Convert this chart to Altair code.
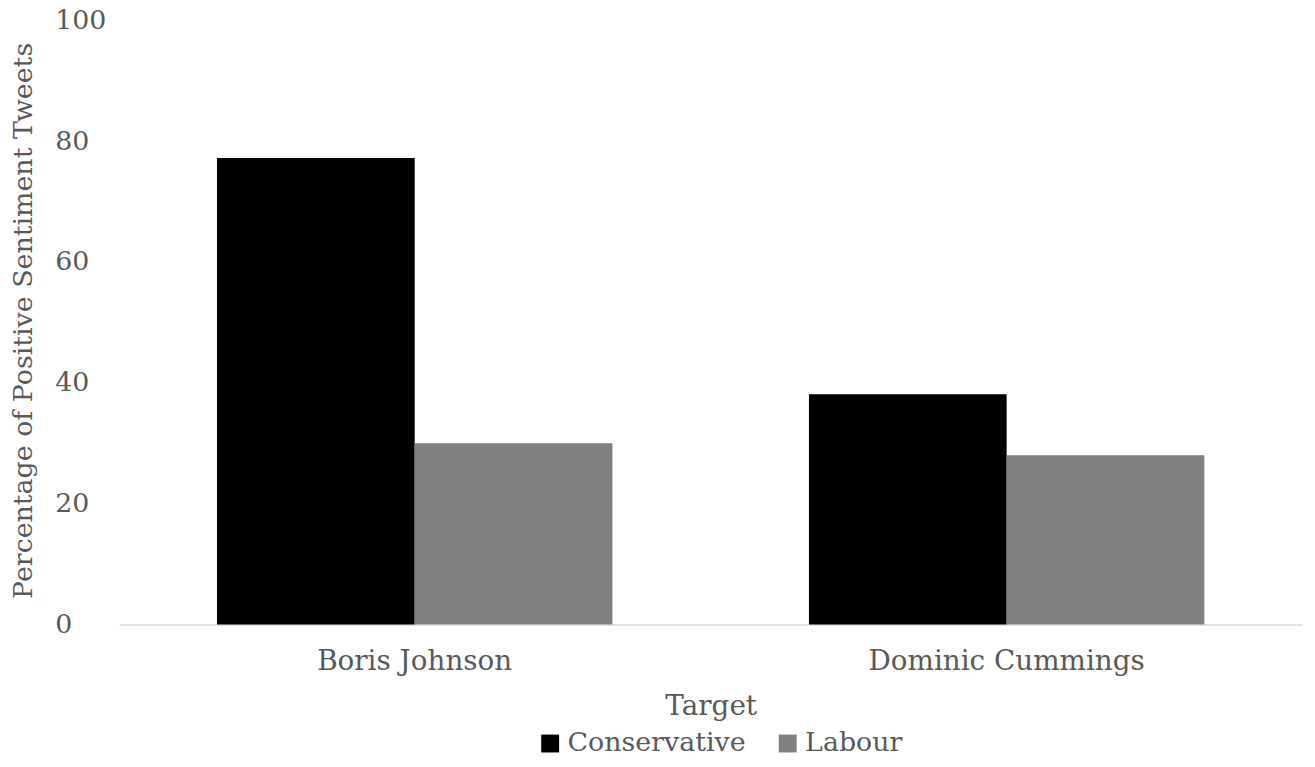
import altair as alt
import pandas as pd

targets = ["Boris Johnson", "Dominic Cummings"]
parties = ["Conservative", "Labour"]
conservative = [77.2, 38.1]
labour = [30.0, 28.0]
y_ticks = [0, 20, 40, 60, 80, 100]

rows = []
for i, t in enumerate(targets):
    rows.append({"Target": t, "Party": "Conservative", "Value": conservative[i]})
    rows.append({"Target": t, "Party": "Labour", "Value": labour[i]})
df = pd.DataFrame(rows)

FONT = "DejaVu Serif"
TXT = "#595959"

chart = alt.Chart(df).mark_bar().encode(
    x=alt.X("Target:N", sort=targets,
            scale=alt.Scale(paddingInner=0.332, paddingOuter=0.165, round=False),
            axis=alt.Axis(title="Target", labelAngle=0, ticks=False,
                          domainColor="#d9d9d9", domainWidth=1.5, labelLimit=0,
                          labelPadding=23, labelFont=FONT, labelFontSize=28,
                          labelColor=TXT, titleFont=FONT, titleFontSize=28,
                          titleFontWeight="normal", titleColor=TXT,
                          titleY=83, titleBaseline="middle")),
    xOffset=alt.XOffset("Party:N", sort=parties),
    y=alt.Y("Value:Q", scale=alt.Scale(domain=[0, 100]),
            axis=alt.Axis(title="Percentage of Positive Sentiment Tweets",
                          values=y_ticks, grid=False, domain=False, ticks=False,
                          labelAlign="left", labelPadding=65, labelBaseline="middle",
                          labelFont=FONT, labelFontSize=27, labelColor=TXT,
                          titleFont=FONT, titleFontSize=27, titleFontWeight="normal",
                          titleColor=TXT, titleX=-96, titleY=302, titleLimit=0,
                          titleBaseline="middle", titleAngle=-90)),
    color=alt.Color("Party:N", sort=parties,
                    scale=alt.Scale(domain=parties, range=["#000000", "#808080"]),
                    legend=alt.Legend(title=None, orient="none", direction="horizontal",
                                      legendX=420, legendY=714, symbolType="square",
                                      symbolSize=324, symbolStrokeWidth=0,
                                      labelFont=FONT, labelFontSize=27, labelColor=TXT,
                                      labelOffset=4, columnPadding=28, padding=0,
                                      labelLimit=0)),
).properties(
    width=1190, height=608,
    autosize=alt.AutoSizeParams(type="none"),
    padding={"left": 112, "top": 10, "right": 5, "bottom": 128},
).configure_view(stroke=None)

chart.save("out.html", embed_options={"renderer": "svg", "actions": False})
